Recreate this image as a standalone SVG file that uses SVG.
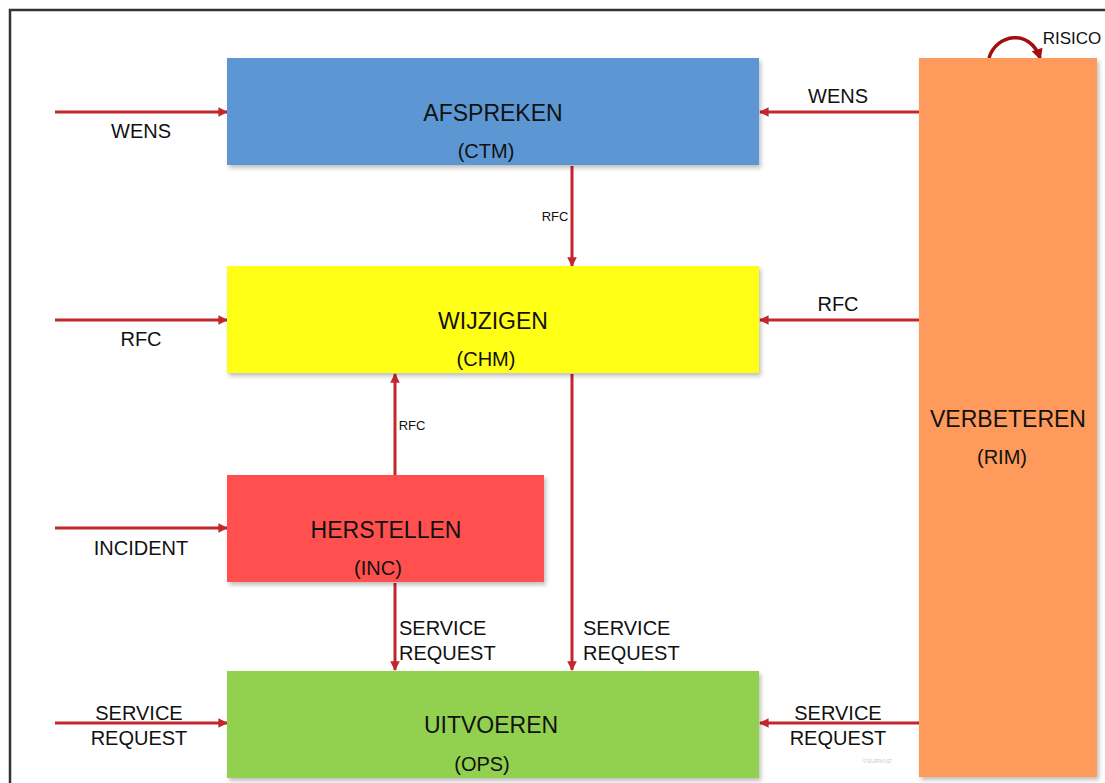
<svg xmlns="http://www.w3.org/2000/svg" width="1105" height="783" viewBox="0 0 1105 783">
<style>
.box{stroke:none;filter:url(#sh)}
.t{font-family:"Liberation Sans",Arial,sans-serif;fill:#111;text-anchor:middle}
.big{font-size:23px}
.sub{font-size:20px}
.lbl{font-size:20px}
.sm{font-size:13px}
.con{stroke:#c4262e;stroke-width:3;fill:none;marker-end:url(#ah)}
</style>
<defs>
<marker id="ah" viewBox="0 0 10 10" refX="9" refY="5" markerWidth="3.6" markerHeight="3.2" orient="auto" markerUnits="strokeWidth">
<path d="M0,0 L10,5 L0,10 z" fill="#c4262e"/>
</marker>
<marker id="ah2" viewBox="0 0 10 10" refX="8" refY="5" markerWidth="3.4" markerHeight="3.2" orient="auto" markerUnits="strokeWidth">
<path d="M0,0 L10,5 L0,10 z" fill="#a10f0f"/>
</marker>
<filter id="sh" x="-5%" y="-5%" width="112%" height="115%">
<feDropShadow dx="2" dy="3" stdDeviation="2" flood-color="#000" flood-opacity="0.25"/>
</filter>
</defs>
<rect width="1105" height="783" fill="#fff"/>
<path d="M10,783 V10 H1105" fill="none" stroke="#333" stroke-width="2.5"/>

<g id="connectors">
<line class="con" x1="55" y1="112" x2="227" y2="112"/>
<line class="con" x1="919" y1="112" x2="760" y2="112"/>
<line class="con" x1="572" y1="166" x2="572" y2="266"/>
<line class="con" x1="55" y1="320" x2="227" y2="320"/>
<line class="con" x1="919" y1="320" x2="760" y2="320"/>
<line class="con" x1="395" y1="475" x2="395" y2="374"/>
<line class="con" x1="55" y1="528" x2="227" y2="528"/>
<line class="con" x1="395" y1="583" x2="395" y2="670"/>
<line class="con" x1="572" y1="374" x2="572" y2="670"/>
<line class="con" x1="55" y1="723" x2="227" y2="723"/>
<line class="con" x1="919" y1="723" x2="760" y2="723"/>
<path d="M989,58 C996,34 1030,28 1040,58" fill="none" stroke="#a10f0f" stroke-width="3.5" marker-end="url(#ah2)"/>
<text class="t lbl" x="141" y="138">WENS</text>
<text class="t lbl" x="838" y="103">WENS</text>
<text class="t sm" x="555" y="221">RFC</text>
<text class="t lbl" x="141" y="346">RFC</text>
<text class="t lbl" x="838" y="311">RFC</text>
<text class="t sm" x="412" y="430">RFC</text>
<text class="t lbl" x="141" y="555">INCIDENT</text>
<text class="t lbl" x="399" y="635" style="text-anchor:start">SERVICE</text>
<text class="t lbl" x="399" y="660" style="text-anchor:start">REQUEST</text>
<text class="t lbl" x="583" y="635" style="text-anchor:start">SERVICE</text>
<text class="t lbl" x="583" y="660" style="text-anchor:start">REQUEST</text>
<text class="t lbl" x="139" y="720">SERVICE</text>
<text class="t lbl" x="139" y="745">REQUEST</text>
<text class="t lbl" x="838" y="720">SERVICE</text>
<text class="t lbl" x="838" y="745">REQUEST</text>
<text class="t" x="1072" y="44" style="font-size:17px">RISICO</text>
</g>

<g id="afspreken">
<rect class="box" x="227" y="58" width="532" height="107" fill="#5b97d3"/>
<text class="t big" x="493" y="121">AFSPREKEN</text>
<text class="t sub" x="486" y="158">(CTM)</text>
</g>
<g id="wijzigen">
<rect class="box" x="227" y="266" width="532" height="107" fill="#ffff14"/>
<text class="t big" x="493" y="329">WIJZIGEN</text>
<text class="t sub" x="486" y="366">(CHM)</text>
</g>
<g id="herstellen">
<rect class="box" x="227" y="475" width="317" height="107" fill="#ff4f4f"/>
<text class="t big" x="386" y="538">HERSTELLEN</text>
<text class="t sub" x="378" y="575">(INC)</text>
</g>
<g id="uitvoeren">
<rect class="box" x="227" y="671" width="532" height="107" fill="#92d050"/>
<text class="t big" x="491" y="733">UITVOEREN</text>
<text class="t sub" x="482" y="771">(OPS)</text>
</g>
<g id="verbeteren">
<rect class="box" x="919" y="58" width="178" height="719" fill="#fe9b5c"/>
<text class="t big" x="1008" y="427">VERBETEREN</text>
<text class="t sub" x="1002" y="464">(RIM)</text>
</g>
<text x="877" y="763" style="font-family:'Liberation Sans',Arial,sans-serif;font-size:6px;fill:#c8c8c8;text-anchor:middle">©SURVUZ</text>
</svg>
